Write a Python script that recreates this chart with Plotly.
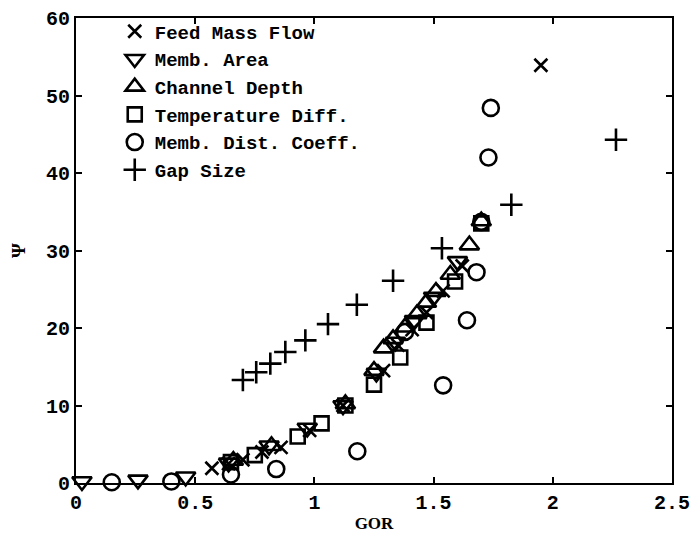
import plotly.graph_objects as go

# Sensitivity of Psi to GOR for each varied design parameter
feed_x = [0.57, 0.64, 0.70, 0.78, 0.86, 0.98, 1.12, 1.29, 1.35, 1.41, 1.47, 1.54, 1.62, 1.95]
feed_y = [1.9, 2.5, 3.0, 4.0, 4.6, 6.8, 10.0, 14.5, 17.8, 19.8, 22.0, 24.8, 28.0, 53.9]

area_x = [0.025, 0.26, 0.46, 0.64, 0.81, 0.97, 1.12, 1.26, 1.34, 1.42, 1.50, 1.60]
area_y = [0.2, 0.4, 0.8, 2.6, 4.8, 7.1, 10.0, 14.2, 18.2, 21.0, 24.0, 28.6]

depth_x = [0.66, 0.82, 1.13, 1.25, 1.29, 1.33, 1.38, 1.43, 1.47, 1.51, 1.57, 1.65, 1.70]
depth_y = [2.9, 4.8, 10.2, 14.5, 17.4, 18.6, 20.1, 21.8, 23.3, 24.7, 26.9, 30.7, 33.8]

temp_x = [0.65, 0.75, 0.93, 1.03, 1.13, 1.25, 1.36, 1.47, 1.59, 1.70]
temp_y = [2.7, 3.6, 6.0, 7.7, 10.0, 12.7, 16.2, 20.7, 26.0, 33.5]

coeff_x = [0.15, 0.40, 0.65, 0.84, 1.18, 1.38, 1.54, 1.64, 1.68, 1.70, 1.73, 1.74]
coeff_y = [0.1, 0.2, 1.1, 1.8, 4.1, 19.5, 12.6, 21.0, 27.2, 33.7, 42.0, 48.4]

gap_x = [0.70, 0.756, 0.815, 0.878, 0.962, 1.057, 1.178, 1.33, 1.535, 1.826, 2.265]
gap_y = [13.3, 14.3, 15.4, 16.9, 18.4, 20.5, 23.0, 26.1, 30.3, 35.9, 44.3]

x_ticks = [0, 0.5, 1, 1.5, 2, 2.5]
x_tick_text = ["0", "0.5", "1", "1.5", "2", "2.5"]
y_ticks = [0, 10, 20, 30, 40, 50, 60]
y_tick_text = ["0", "10", "20", "30", "40", "50", "60"]

series = [
    ("Feed Mass Flow", feed_x, feed_y, "x-thin-open", 13),
    ("Memb. Area", area_x, area_y, "triangle-down-open", 17),
    ("Channel Depth", depth_x, depth_y, "triangle-up-open", 17),
    ("Temperature Diff.", temp_x, temp_y, "square-open", 14),
    ("Memb. Dist. Coeff.", coeff_x, coeff_y, "circle-open", 16),
    ("Gap Size", gap_x, gap_y, "cross-thin-open", 16),
]

fig = go.Figure()
for name, xs, ys, sym, size in series:
    fig.add_trace(go.Scatter(
        x=xs, y=ys, mode="markers", name=name, cliponaxis=False,
        marker=dict(symbol=sym, size=size, color="black",
                    line=dict(color="black", width=2.6)),
    ))

mono = "Liberation Mono"
fig.update_layout(
    width=694, height=533,
    margin=dict(l=76, r=22, t=15, b=50),
    paper_bgcolor="white", plot_bgcolor="white",
    font=dict(family=mono, color="black", size=18),
    showlegend=True,
    legend=dict(x=0.065, y=1.012, xanchor="left", yanchor="top",
                bgcolor="rgba(0,0,0,0)", tracegroupgap=0,
                font=dict(family=mono, size=19, weight="bold")),
    xaxis=dict(range=[0, 2.5], tickvals=x_ticks, ticktext=x_tick_text,
               automargin=False,
               showgrid=False, zeroline=False, showline=True, mirror="ticks",
               linecolor="black", linewidth=2, ticks="inside", ticklen=6,
               tickwidth=2, tickcolor="black",
               tickfont=dict(family=mono, size=20, weight="bold"),
               title=dict(text="GOR",
                          font=dict(family="Liberation Serif", size=17, weight="bold"))),
    yaxis=dict(range=[0, 60], tickvals=y_ticks, ticktext=y_tick_text,
               automargin=False,
               showgrid=False, zeroline=False, showline=True, mirror="ticks",
               linecolor="black", linewidth=2, ticks="inside", ticklen=6,
               tickwidth=2, tickcolor="black",
               tickfont=dict(family=mono, size=20, weight="bold"),
               title=dict(text="Ψ",
                          font=dict(family="Liberation Serif", size=19, weight="bold"))),
)

fig.write_html("out.html")
